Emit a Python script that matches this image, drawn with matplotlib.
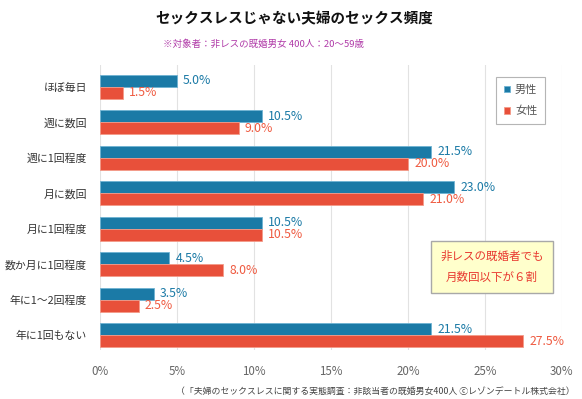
import matplotlib

matplotlib.use("Agg")

import matplotlib.pyplot as plt
import numpy as np


plt.rcParams["font.family"] = ["Noto Sans CJK JP", "DejaVu Sans"]

TITLE = "セックスレスじゃない夫婦のセックス頻度"
SUBTITLE = "※対象者：非レスの既婚男女 400人：20〜59歳"
FOOTNOTE = "（「夫婦のセックスレスに関する実態調査：非該当者の既婚男女400人 ⓒレゾンデートル株式会社）"
NOTE_TEXT = "非レスの既婚者でも\n月数回以下が６割"

CATEGORIES = [
    "ほぼ毎日",
    "週に数回",
    "週に1回程度",
    "月に数回",
    "月に1回程度",
    "数か月に1回程度",
    "年に1〜2回程度",
    "年に1回もない",
]
MALE = [5.0, 10.5, 21.5, 23.0, 10.5, 4.5, 3.5, 21.5]
FEMALE = [1.5, 9.0, 20.0, 21.0, 10.5, 8.0, 2.5, 27.5]
X_TICKS = [0, 5, 10, 15, 20, 25, 30]

BLUE = "#1b7aa6"
RED = "#e8503a"
RED_TEXT = "#ef5a40"
BAR_H = 0.34


def main() -> None:
    fig = plt.figure(figsize=(5.82, 3.99), dpi=100)
    ax = fig.add_axes([100 / 582, 1 - 350 / 399, 462 / 582, 285 / 399])

    y = np.arange(len(CATEGORIES))
    ax.barh(y - BAR_H / 2, MALE, height=BAR_H, color=BLUE,
            edgecolor="#6fb3d3", linewidth=0.6, label="男性", zorder=3)
    ax.barh(y + BAR_H / 2, FEMALE, height=BAR_H, color=RED,
            edgecolor="#f49a88", linewidth=0.6, label="女性", zorder=3)

    for yi, m, f in zip(y, MALE, FEMALE):
        ax.text(m + 0.4, yi - BAR_H / 2, f"{m:.1f}%", color=BLUE,
                fontsize=8.8, va="center", ha="left")
        ax.text(f + 0.4, yi + BAR_H / 2, f"{f:.1f}%", color=RED_TEXT,
                fontsize=8.8, va="center", ha="left")

    ax.set_xlim(0, 30)
    ax.set_ylim(len(CATEGORIES) - 1 + 0.42, -0.61)
    ax.set_yticks(y)
    ax.set_yticklabels(CATEGORIES, fontsize=7.8, color="#333333")
    ax.set_xticks(X_TICKS)
    ax.set_xticklabels([f"{t}%" for t in X_TICKS], fontsize=8.3, color="#666666")
    ax.tick_params(axis="both", length=0)
    ax.tick_params(axis="y", pad=9.5)
    ax.tick_params(axis="x", pad=11)
    for spine in ax.spines.values():
        spine.set_visible(False)
    ax.grid(axis="x", color="#e2e2e2", linewidth=0.8, zorder=0)
    ax.set_axisbelow(True)

    leg = ax.legend(loc="upper right", bbox_to_anchor=(545 / 582, 1 - 77 / 399),
                    bbox_transform=fig.transFigure, fontsize=8,
                    handlelength=0.55, handleheight=0.55, handletextpad=0.45,
                    labelspacing=1.0, borderpad=0.7, borderaxespad=0,
                    fancybox=False, edgecolor="#b5b5b5", framealpha=1)
    leg.get_frame().set_linewidth(0.8)
    for text in leg.get_texts():
        text.set_color("#555555")

    fig.text(492 / 582, 1 - 267 / 399, NOTE_TEXT, color="#e8382f",
             fontsize=8.3, ha="center", va="center", linespacing=1.85,
             bbox={"boxstyle": "square,pad=0.8", "fc": "#ffffcc",
                   "ec": "#a8a8a8", "lw": 1.0})

    fig.text(294 / 582, 1 - 18 / 399, TITLE, fontsize=10.5,
             fontweight="bold", ha="center", va="center", color="#111111")
    fig.text(163 / 582, 1 - 44 / 399, SUBTITLE, fontsize=6.8,
             ha="left", va="center", color="#b03aa8")
    fig.text(575 / 582, 1 - 392 / 399, FOOTNOTE, fontsize=6.4,
             ha="right", va="center", color="#444444")

    fig.savefig("out.png", dpi=100)
    plt.close(fig)


if __name__ == "__main__":
    main()
